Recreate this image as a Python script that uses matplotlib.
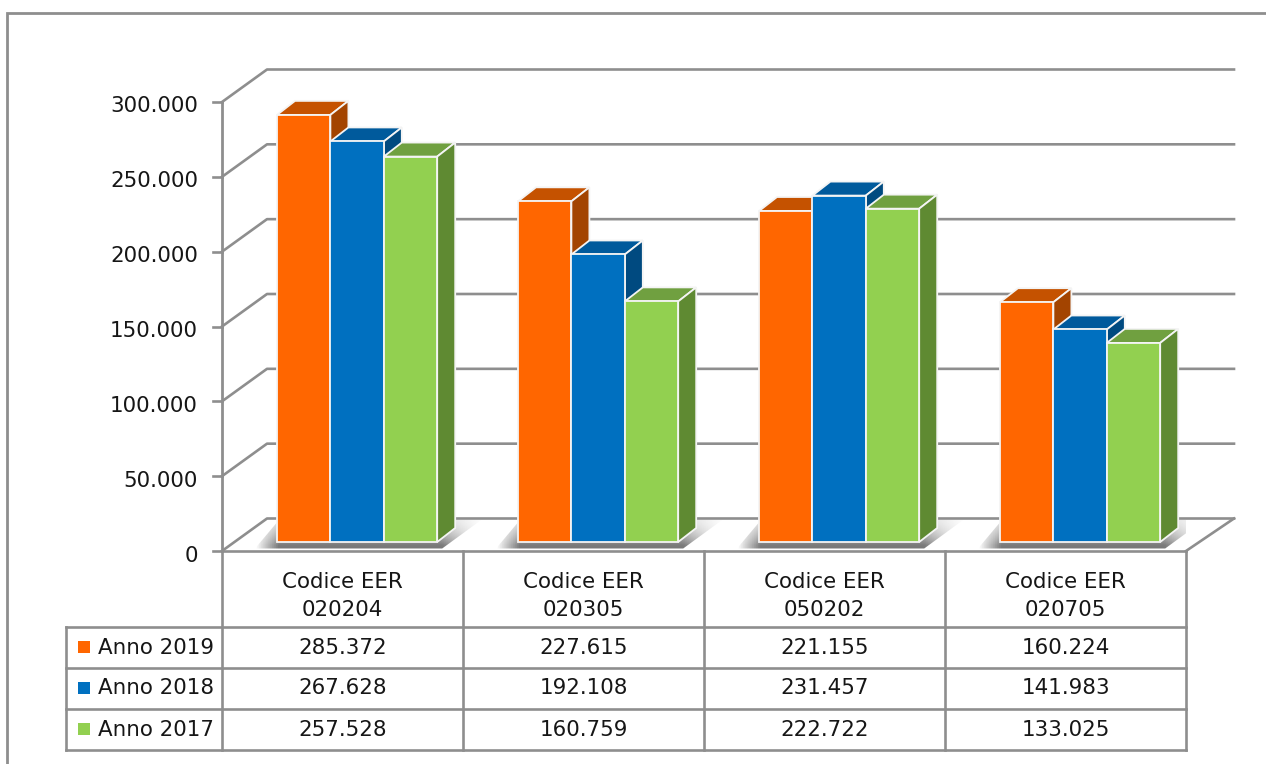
import numpy as np
import matplotlib
matplotlib.use("Agg")
import matplotlib.pyplot as plt
from matplotlib.patches import Polygon, Rectangle

categories = ["Codice EER\n020204", "Codice EER\n020305", "Codice EER\n050202", "Codice EER\n020705"]
series_names = ["Anno 2019", "Anno 2018", "Anno 2017"]
anno_2019 = [285372, 227615, 221155, 160224]
anno_2018 = [267628, 192108, 231457, 141983]
anno_2017 = [257528, 160759, 222722, 133025]
y_ticks = [0, 50000, 100000, 150000, 200000, 250000, 300000]

front = ["#FF6600", "#0070C0", "#92D050"]
top = ["#C55200", "#005A9C", "#70A040"]
side = ["#A34400", "#004A80", "#5F8A32"]
grid = "#8E8E8E"
ink = "#161616"

W, H = 1266, 764
fig = plt.figure(figsize=(W / 100, H / 100), dpi=100)
plt.rcParams["font.family"] = "DejaVu Sans"
fs = 15.4

# pixel layer for the frame and the table
bg = fig.add_axes([0, 0, 1, 1])
bg.set_xlim(0, W)
bg.set_ylim(H, 0)
bg.axis("off")

# plot axes = front plane of the 3d box
ax_l, ax_r, ax_t, ax_b = 222, 1186, 102, 551
ax = fig.add_axes([ax_l / W, 1 - ax_b / H, (ax_r - ax_l) / W, (ax_b - ax_t) / H])
ax.patch.set_alpha(0)
ax.axis("off")
ax.set_xlim(0, 4)
ax.set_ylim(0, 300000)

px = 4 / (ax_r - ax_l)
py = 300000 / (ax_b - ax_t)

bg.plot([7, 7, W], [H, 13, 13], color=grid, lw=2, solid_joinstyle="miter")

# back wall and floor
wall_dx, wall_dy = 45 * px, 32.5 * py
for v in y_ticks:
    ax.plot([0, wall_dx, 4 + wall_dx + 3 * px], [v, v + wall_dy, v + wall_dy], color=grid, lw=1.9, clip_on=False, zorder=1)
    ax.plot([-9 * px, 0], [v, v], color=grid, lw=1.9, clip_on=False, zorder=1)
    ax.text(-24 * px, v - 4.5 * py, f"{v:,}".replace(",", "."), ha="right", va="center", fontsize=fs, color=ink)
ax.plot([0, 0], [0, 300000], color=grid, lw=2, clip_on=False, zorder=1)
ax.plot([4, 4 + 48 * px], [0, wall_dy], color=grid, lw=1.9, clip_on=False, zorder=1)

# bars
bar_w = 53.4 * px
start = 55 * px
base = 9 * py
depth_x, depth_y = 18 * px, 14 * py
all_values = [anno_2019, anno_2018, anno_2017]

# soft shadow on the floor
ramp_x = np.linspace(0, 1, 120)
ramp_y = np.linspace(0, 1, 40)
for c in range(len(categories)):
    x0 = c + start
    x1 = x0 + 3 * bar_w
    sh_left, sh_right = x0 - 22 * px, x1 + 46 * px
    sh_bottom, sh_top = 2.5 * py, 31 * py
    xx, yy = np.meshgrid(ramp_x, ramp_y)
    alpha = np.clip(xx / 0.1, 0, 1) * np.clip((1 - xx) / 0.18, 0, 1) * np.clip(0.25 + 0.85 * yy ** 1.5, 0, 0.95)
    img = np.zeros((40, 120, 4))
    img[..., :3] = 0.45
    img[..., 3] = alpha
    im = ax.imshow(img, extent=(sh_left, sh_right, sh_bottom, sh_top), aspect="auto", origin="upper", zorder=2)
    clip = Polygon([(x0 - 22 * px, sh_bottom), (x1 + 5 * px, sh_bottom), (x1 + 44 * px, sh_top), (x0 + 2 * px, sh_top)],
                   transform=ax.transData, facecolor="none", edgecolor="none")
    ax.add_patch(clip)
    im.set_clip_path(clip)
ax.set_xlim(0, 4)
ax.set_ylim(0, 300000)

z = 3
for c in range(len(categories)):
    for s, values in enumerate(all_values):
        left = c + start + s * bar_w
        right = left + bar_w
        h = base + values[c]
        ax.add_patch(Polygon([(left, h), (left + depth_x, h + depth_y), (right + depth_x, h + depth_y), (right, h)],
                             facecolor=top[s], edgecolor="#F4F4F4", lw=1.3, zorder=z, clip_on=False))
        ax.add_patch(Polygon([(right, base), (right + depth_x, base + depth_y), (right + depth_x, h + depth_y), (right, h)],
                             facecolor=side[s], edgecolor="#F4F4F4", lw=1.3, zorder=z, clip_on=False))
        ax.bar(left, values[c], width=bar_w, bottom=base, align="edge", color=front[s], edgecolor="#F4F4F4",
               linewidth=1.3, zorder=z + 0.5, clip_on=False)
        z += 1

# data table
col_x = [222, 463, 704, 945, 1186]
row_y = [551, 627, 668, 709, 750]
label_left = 66
for x in col_x:
    bg.plot([x, x], [row_y[0], row_y[-1]], color=grid, lw=1.9)
bg.plot([col_x[0], col_x[-1]], [row_y[0], row_y[0]], color=grid, lw=1.9)
for y in row_y[1:]:
    bg.plot([label_left, col_x[-1]], [y, y], color=grid, lw=1.9)
bg.plot([label_left, label_left], [row_y[1], row_y[-1]], color=grid, lw=1.9)

for c, cat in enumerate(categories):
    xc = (col_x[c] + col_x[c + 1]) / 2
    bg.text(xc, 596, cat, ha="center", va="center", fontsize=fs, color=ink, linespacing=1.55)

for s, values in enumerate(all_values):
    yc = (row_y[s + 1] + row_y[s + 2]) / 2
    bg.add_patch(Rectangle((78, yc - 6.5), 12, 12, facecolor=front[s], edgecolor="none"))
    bg.text(98, yc, series_names[s], ha="left", va="center", fontsize=fs, color=ink)
    for c, v in enumerate(values):
        xc = (col_x[c] + col_x[c + 1]) / 2
        bg.text(xc, yc, f"{v:,}".replace(",", "."), ha="center", va="center", fontsize=fs, color=ink)

fig.savefig("out.png", dpi=100, facecolor="white")
